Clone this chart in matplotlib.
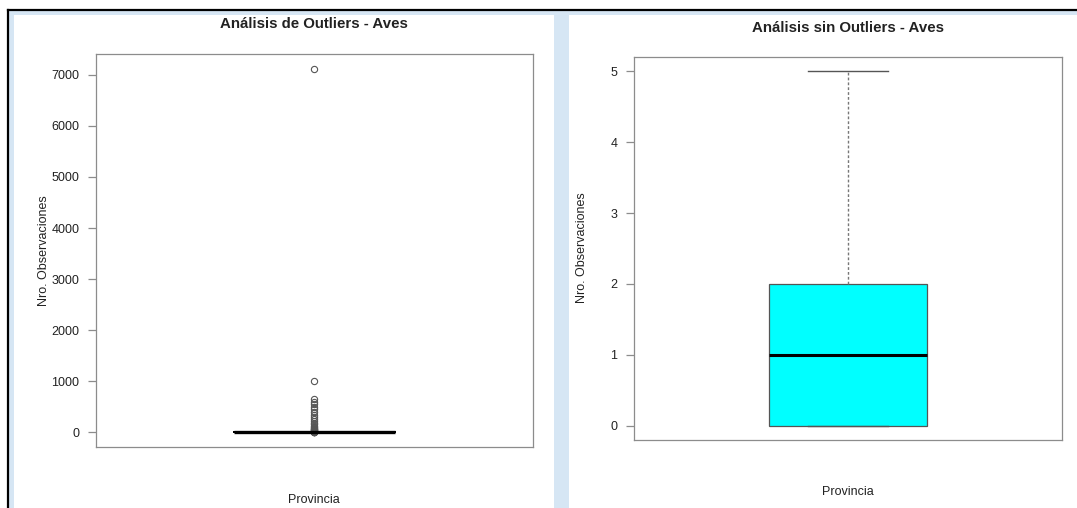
import numpy as np
import matplotlib
matplotlib.use("Agg")
import matplotlib.pyplot as plt
from matplotlib.patches import Rectangle
from matplotlib.lines import Line2D

plt.rcParams['font.family'] = ['Liberation Sans', 'DejaVu Sans']

# Frecuencias de los valores "normales" (0 a 5 observaciones)
valores = [0, 1, 2, 3, 4, 5]
frecuencias = [50, 50, 50, 8, 5, 4]

# Valores atipicos (estimados del grafico)
outliers = [7120, 1000, 650, 600, 560, 500, 450, 400, 350, 300, 260, 220,
            190, 160, 130, 110, 90, 75, 60, 50, 40, 30, 25, 20, 15, 12,
            10, 8, 7, 6]

titulos = ["Análisis de Outliers - Aves", "Análisis sin Outliers - Aves"]
etiqueta_x = "Provincia"
etiqueta_y = "Nro. Observaciones"
ticks_izq = [0, 1000, 2000, 3000, 4000, 5000, 6000, 7000]
ticks_der = [0, 1, 2, 3, 4, 5]

sin_outliers = np.repeat(valores, frecuencias)
con_outliers = np.concatenate([sin_outliers, outliers])

W, H = 1077, 508
fig = plt.figure(figsize=(W / 100, H / 100), dpi=100)

# Marco de la captura
azul = '#d6e6f4'
fig.add_artist(Rectangle((9 / W, 0), 5 / W, 1 - 10 / H, transform=fig.transFigure,
                         color=azul, lw=0))
fig.add_artist(Rectangle((9 / W, 1 - 15 / H), 1, 5 / H, transform=fig.transFigure,
                         color=azul, lw=0))
fig.add_artist(Rectangle((554 / W, 0), 15 / W, 1 - 10 / H, transform=fig.transFigure,
                         color=azul, lw=0))
fig.add_artist(Line2D([8 / W, 1], [1 - 10 / H, 1 - 10 / H], transform=fig.transFigure,
                      color='black', lw=1.6))
fig.add_artist(Line2D([8 / W, 8 / W], [0, 1 - 10 / H], transform=fig.transFigure,
                      color='black', lw=1.6))

gris = '#8c8c8c'
texto = '#222222'


def estilo(ax, ticks, ylim):
    ax.set_xlim(0.46, 1.54)
    ax.set_ylim(*ylim)
    ax.set_xticks([])
    ax.set_yticks(ticks)
    ax.set_yticklabels([str(t) for t in ticks])
    for s in ax.spines.values():
        s.set_color(gris)
        s.set_linewidth(0.9)
    ax.tick_params(axis='y', length=6, width=0.9, color=gris, pad=6,
                   labelsize=9, labelcolor=texto)


def rotulos(xc, y_titulo, titulo, x_ylab, y_ylab, y_xlab):
    fig.text(xc / W, 1 - y_titulo / H, titulo, ha='center', va='center',
             fontsize=10.8, fontweight='bold', color=texto)
    fig.text(x_ylab / W, 1 - y_ylab / H, etiqueta_y, ha='center', va='center',
             rotation=90, fontsize=9, color=texto)
    fig.text(xc / W, 1 - y_xlab / H, etiqueta_x, ha='center', va='center',
             fontsize=9, color=texto)


# Grafico con outliers
ax1 = fig.add_axes([96 / W, 1 - 447 / H, 437 / W, 393 / H])
ax1.boxplot(con_outliers, positions=[1], widths=0.4, whis=1.5, capwidths=0.2,
            boxprops=dict(color='black', lw=1.2),
            medianprops=dict(color='black', lw=2.4),
            whiskerprops=dict(color='black', lw=1.0, linestyle=(0, (2, 2))),
            capprops=dict(color='black', lw=1.0),
            flierprops=dict(marker='o', mfc='none', mec='#555555', ms=4.5, mew=0.8))
estilo(ax1, ticks_izq, (-285, 7405))
rotulos(314, 24, titulos[0], 44, 251, 500)

# Grafico sin outliers
ax2 = fig.add_axes([634 / W, 1 - 440 / H, 428 / W, 383 / H])
ax2.boxplot(sin_outliers, positions=[1], widths=0.4, whis=1.5, capwidths=0.2,
            patch_artist=True,
            boxprops=dict(facecolor='#00ffff', edgecolor='#555555', lw=0.9),
            medianprops=dict(color='black', lw=2.2),
            whiskerprops=dict(color='#777777', lw=1.0, linestyle=(0, (2, 1.5))),
            capprops=dict(color='#555555', lw=1.0),
            flierprops=dict(marker='o', mfc='none', mec='#555555', ms=4.5))
estilo(ax2, ticks_der, (-0.2, 5.2))
rotulos(848, 28, titulos[1], 582, 248, 492)

fig.savefig('out.png', dpi=100, facecolor='white')
